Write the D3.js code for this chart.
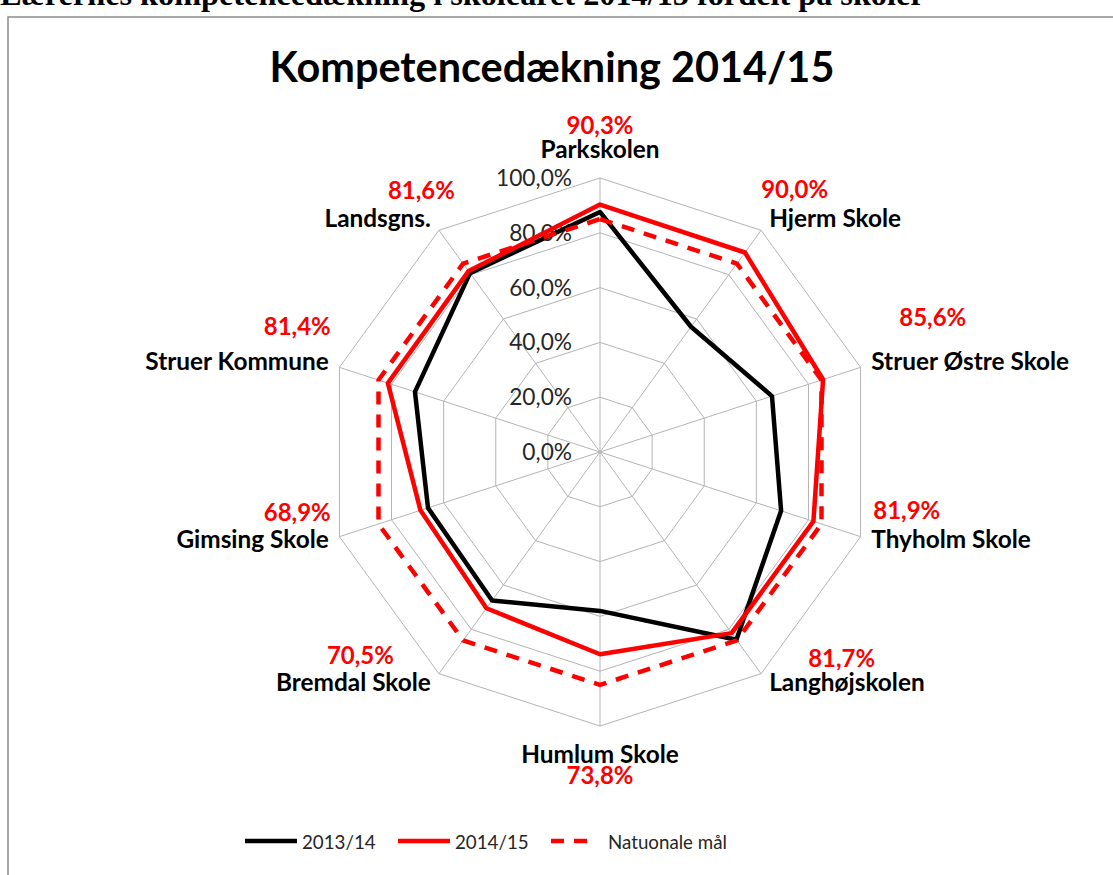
<!DOCTYPE html>
<html><head><meta charset="utf-8">
<script src="https://cdn.jsdelivr.net/npm/d3@7"></script>
<style>body{margin:0;background:#fff;} svg{display:block}</style>
</head><body>
<svg id="c" width="1113" height="875"></svg>
<script>
const categories = ["Parkskolen","Hjerm Skole","Struer Østre Skole","Thyholm Skole","Langhøjskolen","Humlum Skole","Bremdal Skole","Gimsing Skole","Struer Kommune","Landsgns."];
const values1314 = [87.6,56.5,66,69.5,84.7,58,67,66,71,80.7];
const values1415 = [90.3,90.0,85.6,81.9,81.7,73.8,70.5,68.9,81.4,81.6];
const valuesMaal = [85,85,85,85,85,85,85,85,85,85];
const valueLabels = ["90,3%","90,0%","85,6%","81,9%","81,7%","73,8%","70,5%","68,9%","81,4%","81,6%"];
const tickValues = [0,20,40,60,80,100];
const tickLabels = ["0,0%","20,0%","40,0%","60,0%","80,0%","100,0%"];
const seriesNames = ["2013/14","2014/15","Natuonale mål"];
const titleText = "Kompetencedækning 2014/15";
const headerText = "Lærernes kompetencedækning i skoleåret 2014/15 fordelt på skoler";

// ---- layout ----
const FONT = "Lato, 'Open Sans', sans-serif";
const cx = 600, cy = 452, R = 274;
const n = categories.length;
const svg = d3.select("#c");
const rScale = d3.scaleLinear().domain([0,100]).range([0,R]);
const aScale = d3.scaleLinear().domain([0,n]).range([0,2*Math.PI]);
const g = svg.append("g").attr("transform",`translate(${cx},${cy})`);

function fitSize(weight, sample, target, family){
  const t = svg.append("text").attr("font-family",family||FONT).attr("font-size",100)
    .attr("font-weight",weight).text(sample);
  const w = t.node().getComputedTextLength(); t.remove();
  return 100*target/w;
}

// header (cut at top)
const SERIF = "'Liberation Serif', 'Times New Roman', serif";
svg.append("text").attr("x",0).attr("y",5).attr("font-family",SERIF)
  .attr("font-weight","bold").attr("font-size",fitSize("bold",headerText,925,SERIF)).text(headerText);

// chart border
svg.append("path").attr("d","M8,1000 L8,17 L1200,17").attr("fill","none").attr("stroke","#8c8c8c").attr("stroke-width",1.5);

// title
svg.append("text").attr("x",552).attr("y",82).attr("text-anchor","middle")
  .attr("font-family",FONT).attr("font-weight","bold")
  .attr("font-size",fitSize("bold",titleText,565)).attr("fill","#000").text(titleText);

// grid
const ringLine = d3.lineRadial().angle((d,i)=>aScale(i)).radius(d=>rScale(d)).curve(d3.curveLinearClosed);
tickValues.filter(v=>v>0).forEach(v=>{
  g.append("path").attr("d",ringLine(d3.range(n).map(()=>v)))
    .attr("fill","none").attr("stroke","#b4b4b4").attr("stroke-width",1);
});
d3.range(n).forEach(i=>{
  const a = aScale(i);
  g.append("line").attr("x1",0).attr("y1",0)
    .attr("x2",rScale(100)*Math.sin(a)).attr("y2",-rScale(100)*Math.cos(a))
    .attr("stroke","#b4b4b4").attr("stroke-width",1);
});

// tick labels
const tickSize = fitSize("normal","100,0%",76);
g.selectAll(".tick").data(tickValues).enter().append("text")
  .attr("x",-28).attr("y",d=>-rScale(d)+8).attr("text-anchor","end")
  .attr("font-family",FONT).attr("font-size",tickSize).attr("fill","#262626")
  .text((d,i)=>tickLabels[i]);

// series
const series = [
  {vals:values1314, color:"#000000", dash:null},
  {vals:values1415, color:"#ff0000", dash:null},
  {vals:valuesMaal, color:"#ff0000", dash:"13,10"}
];
series.forEach(s=>{
  g.append("path").attr("d",ringLine(s.vals)).attr("fill","none")
    .attr("stroke",s.color).attr("stroke-width",4.5)
    .attr("stroke-linejoin","round")
    .attr("stroke-dasharray",s.dash);
});

// category labels + value labels
const catSize = fitSize("bold","Hjerm Skole",132);
const valSize = fitSize("bold","81,9%",67);
const valueNudge = [[0,-24],[-8,-29],[28,-44],[2,-29],[39,-24],[0,21],[-37,-27],[2,-27],[2,-35],[24,-28]];
categories.forEach((c,i)=>{
  const a = aScale(i), s = Math.sin(a), co = Math.cos(a);
  const vx = rScale(100)*s, vy = -rScale(100)*co;
  let anchor, x, y;
  if (Math.abs(s)<0.1){ anchor="middle"; x=vx; y = co>0 ? vy-20 : vy+37; }
  else { anchor = s>0 ? "start":"end"; x = vx + Math.sign(s)*(4+7*Math.abs(s)); y = vy + 7 - 13*co; }
  g.append("text").attr("x",x).attr("y",y).attr("text-anchor",anchor)
    .attr("font-family",FONT).attr("font-weight","bold").attr("font-size",catSize)
    .attr("fill","#000").text(c);
  g.append("text").attr("x",x+valueNudge[i][0]).attr("y",y+valueNudge[i][1]).attr("text-anchor",anchor)
    .attr("font-family",FONT).attr("font-weight","bold").attr("font-size",valSize)
    .attr("fill","#ff0000").text(valueLabels[i]);
});

// legend
const legSize = fitSize("normal","Natuonale mål",119);
const legItems = [{x1:245,x2:297,tx:302},{x1:398,x2:450,tx:455},{x1:551,x2:592,tx:608}];
series.forEach((s,i)=>{
  const L = legItems[i];
  svg.append("line").attr("x1",L.x1).attr("x2",L.x2).attr("y1",841).attr("y2",841)
    .attr("stroke",s.color).attr("stroke-width",4.5).attr("stroke-dasharray",s.dash);
  svg.append("text").attr("x",L.tx).attr("y",849).attr("font-family",FONT)
    .attr("font-size",legSize).attr("fill","#262626").text(seriesNames[i]);
});
</script>
</body></html>
